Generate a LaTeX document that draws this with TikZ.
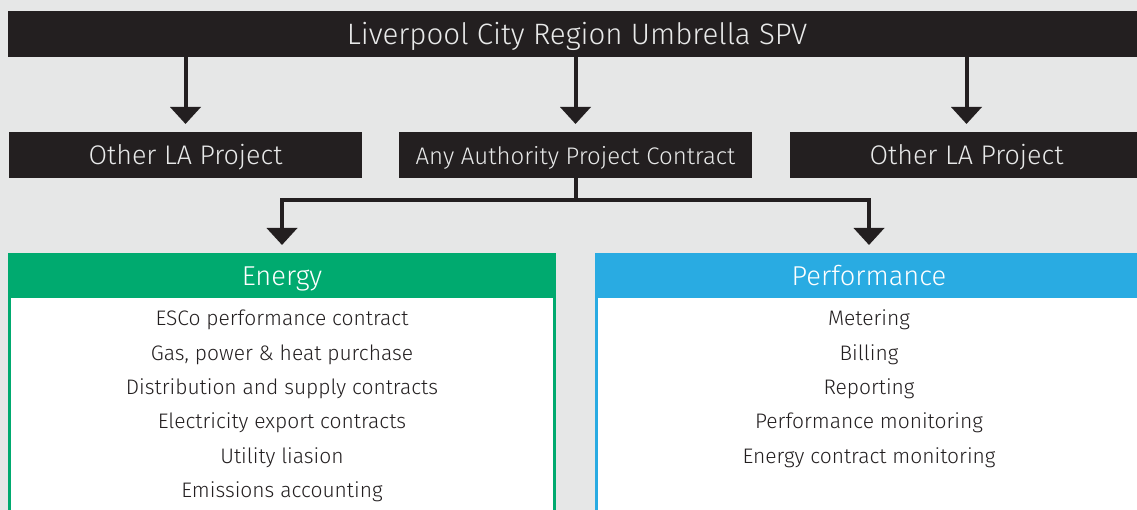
\documentclass[tikz,border=0pt]{standalone}
\usepackage{fontspec}
\setmainfont{Fira Sans Light}
\usetikzlibrary{arrows.meta,calc}
\definecolor{bg}{HTML}{E6E7E7}
\definecolor{ink}{HTML}{231F20}
\definecolor{lite}{HTML}{E8E9E9}
\definecolor{egreen}{HTML}{00AA6F}
\definecolor{pblue}{HTML}{29ABE2}
\tikzset{
  darkbox/.style={fill=ink,text=lite,inner sep=0pt,outer sep=0pt,minimum height=46pt},
  head/.style={text=white,inner sep=0pt,outer sep=0pt,minimum width=548pt,minimum height=45pt,
    text height=33pt,text depth=12pt,font=\fontsize{27.3}{30}\selectfont},
  item/.style={text=ink,inner sep=0pt,anchor=base,font=\fontsize{21}{24}\selectfont},
  shaft/.style={draw=ink,line width=4pt},
  arr/.style={shaft,-{Triangle[width=30pt,length=17pt]}},
}
\begin{document}
\begin{tikzpicture}[x=1pt,y=-1pt]
\useasboundingbox[fill=bg] (0,0) rectangle (1137,510);
% top bar
\node[darkbox,minimum width=1138pt,text height=34pt,text depth=12pt,font=\fontsize{29.5}{32}\selectfont] (top) at (577,34) {Liverpool City Region Umbrella SPV};
% second row
\node[darkbox,minimum width=353pt,text height=33pt,text depth=13pt,font=\fontsize{26.9}{30}\selectfont] (left) at (185.5,155) {Other LA Project};
\node[darkbox,minimum width=353pt,text height=33pt,text depth=13pt,font=\fontsize{24}{28}\selectfont] (mid) at (575.5,155) {Any Authority Project Contract};
\node[darkbox,minimum width=353pt,text height=33pt,text depth=13pt,font=\fontsize{26.9}{30}\selectfont] (right) at (966.5,155) {Other LA Project};
% bodies
\fill[egreen] (8,298) rectangle (556,520);
\fill[white] (11,298) rectangle (553,520);
\fill[pblue] (595,298) rectangle (1143,520);
\fill[white] (598,298) rectangle (1140,520);
\node[head,fill=egreen] (energy) at (282,275.5) {Energy};
\node[head,fill=pblue] (perf) at (869,275.5) {Performance};
% items
\node[item] (e1) at (282,326) {ESCo performance contract};
\node[item] (e2) at (282,360) {Gas, power \& heat purchase};
\node[item] (e3) at (282,394) {Distribution and supply contracts};
\node[item] (e4) at (282,428) {Electricity export contracts};
\node[item] (e5) at (282,463) {Utility liasion};
\node[item] (e6) at (282,497) {Emissions accounting};
\node[item] (p1) at (869,326) {Metering};
\node[item] (p2) at (869,360) {Billing};
\node[item] (p3) at (869,394) {Reporting};
\node[item] (p4) at (869,428) {Performance monitoring};
\node[item] (p5) at (869,463) {Energy contract monitoring};
% connectors
\draw[arr,shorten >=8pt] (top.south -| left.north) -- (left.north);
\draw[arr,shorten >=8pt] (top.south -| mid.north) -- (mid.north);
\draw[arr,shorten >=8pt] (top.south -| right.north) -- (right.north);
\coordinate (split) at (mid.south |- 0,200);
\draw[shaft] (mid.south) -- (split);
\draw[arr,shorten >=8pt] (split) -| (energy.north);
\draw[arr,shorten >=8pt] (split) -| (perf.north);
\end{tikzpicture}
\end{document}
